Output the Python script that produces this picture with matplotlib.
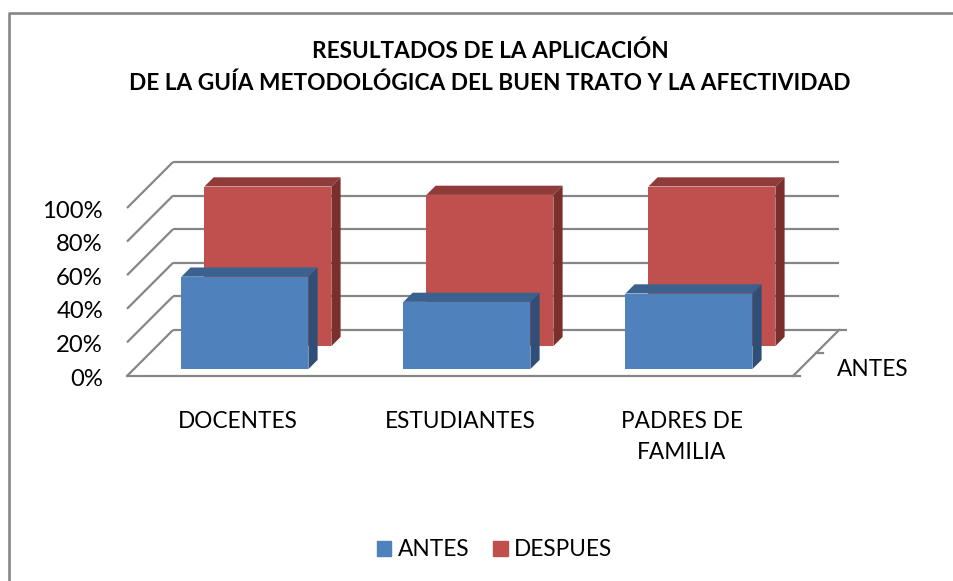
import matplotlib
matplotlib.use("Agg")
import matplotlib.pyplot as plt
from matplotlib.lines import Line2D
from matplotlib.patches import Polygon, Rectangle

plt.rcParams["font.family"] = ["Lato", "DejaVu Sans"]

categories = ["DOCENTES", "ESTUDIANTES", "PADRES DE\nFAMILIA"]
series_names = ["ANTES", "DESPUES"]
antes = [55, 40, 45]
despues = [95, 90, 95]
y_ticks = [0, 20, 40, 60, 80, 100]
depth_label = "ANTES"
title = "RESULTADOS DE LA APLICACIÓN\nDE LA GUÍA METODOLÓGICA DEL BUEN TRATO Y LA AFECTIVIDAD"

W, H = 954, 581
GRID = "#868686"
BLUE = ("#4F81BD", "#3B618F", "#2F4F78")
RED = ("#C0504D", "#8F3B39", "#7A2F2D")

# oblique depth, in data units for the full depth of the floor
DX = 46 / 222
DY = 46 / 1.68
BAR_W = 127 / 222


def proj(x, y, d):
    return x + d * DX, y + d * DY


fig = plt.figure(figsize=(W / 100, H / 100), dpi=100)
# outer frame, only left and top are inside the picture
fig.add_artist(Line2D([9.5 / W, 9.5 / W, 1], [0, 1 - 13 / H, 1 - 13 / H], color=GRID, lw=1.9))

# axes = the front plane of the 3d box
ax = fig.add_axes([127 / W, 1 - 376 / H, 666 / W, 168 / H])
ax.set_xlim(-0.5, 2.5)
ax.set_ylim(0, 100)
ax.axis("off")

x0, x1 = ax.get_xlim()
for v in y_ticks:
    xb, yb = proj(x0, v, 1)
    ax.plot([x0, xb], [v, yb], color=GRID, lw=1.6, clip_on=False, zorder=1, solid_capstyle="butt")
    # floor line runs a little further as a tick
    end = x1 + DX + (8 / 222 if v == 0 else 0)
    ax.plot([xb, end], [yb, yb], color=GRID, lw=1.6, clip_on=False, zorder=1, solid_capstyle="butt")
    ax.text(x0 - 24 / 222, v - 0.6, f"{v}%", ha="right", va="center_baseline", fontsize=17.2, color="black",
            clip_on=False)

# front edge and right edge of the floor
ax.plot([x0, x1 + 7 / 222], [0, 0], color=GRID, lw=1.6, clip_on=False, zorder=1)
xr, yr = proj(x1, 0, 1)
ax.plot([x1, xr], [0, yr], color=GRID, lw=1.6, clip_on=False, zorder=1)
xm, ym = proj(x1, 0, 0.5)
ax.plot([xm, xm + 7 / 222], [ym, ym], color=GRID, lw=1.6, clip_on=False, zorder=1)


def draw_series(values, colors, d0, d1, z):
    for i, v in enumerate(values):
        fx, fy = proj(i - BAR_W / 2, 0, d0)
        ax.bar(fx, v, BAR_W, bottom=fy, align="edge", color=colors[0], zorder=z, clip_on=False)
        l, r = fx, fx + BAR_W
        top = fy + v
        ddx, ddy = (d1 - d0) * DX, (d1 - d0) * DY
        ax.add_patch(Polygon([(l, top), (r, top), (r + ddx, top + ddy), (l + ddx, top + ddy)],
                             facecolor=colors[1], edgecolor="none", zorder=z, clip_on=False))
        ax.add_patch(Polygon([(r, fy), (r + ddx, fy + ddy), (r + ddx, top + ddy), (r, top)],
                             facecolor=colors[2], edgecolor="none", zorder=z, clip_on=False))


draw_series(despues, RED, 0.65, 0.85, 2)
draw_series(antes, BLUE, 0.15, 0.35, 3)

for i, c in enumerate(categories):
    ax.text(i, -20.8, c, ha="center", va="top", fontsize=16.3, linespacing=1.6, clip_on=False)

fig.text(873 / W, 1 - 369 / H, depth_label, ha="center", va="center", fontsize=16.3)
fig.text(490 / W, 1 - 67.5 / H, title, ha="center", va="center", fontsize=16.3, fontweight="bold",
         linespacing=1.6)

# legend
handles = [Rectangle((0, 0), 1, 1, color=BLUE[0]), Rectangle((0, 0), 1, 1, color=RED[0])]
fig.legend(handles, series_names, loc="center", bbox_to_anchor=(494.5 / W, 1 - 550 / H), ncol=2, frameon=False,
           fontsize=16.3, handlelength=0.66, handleheight=0.66, handletextpad=0.27, columnspacing=1.06)

fig.savefig("out.png", dpi=100)
